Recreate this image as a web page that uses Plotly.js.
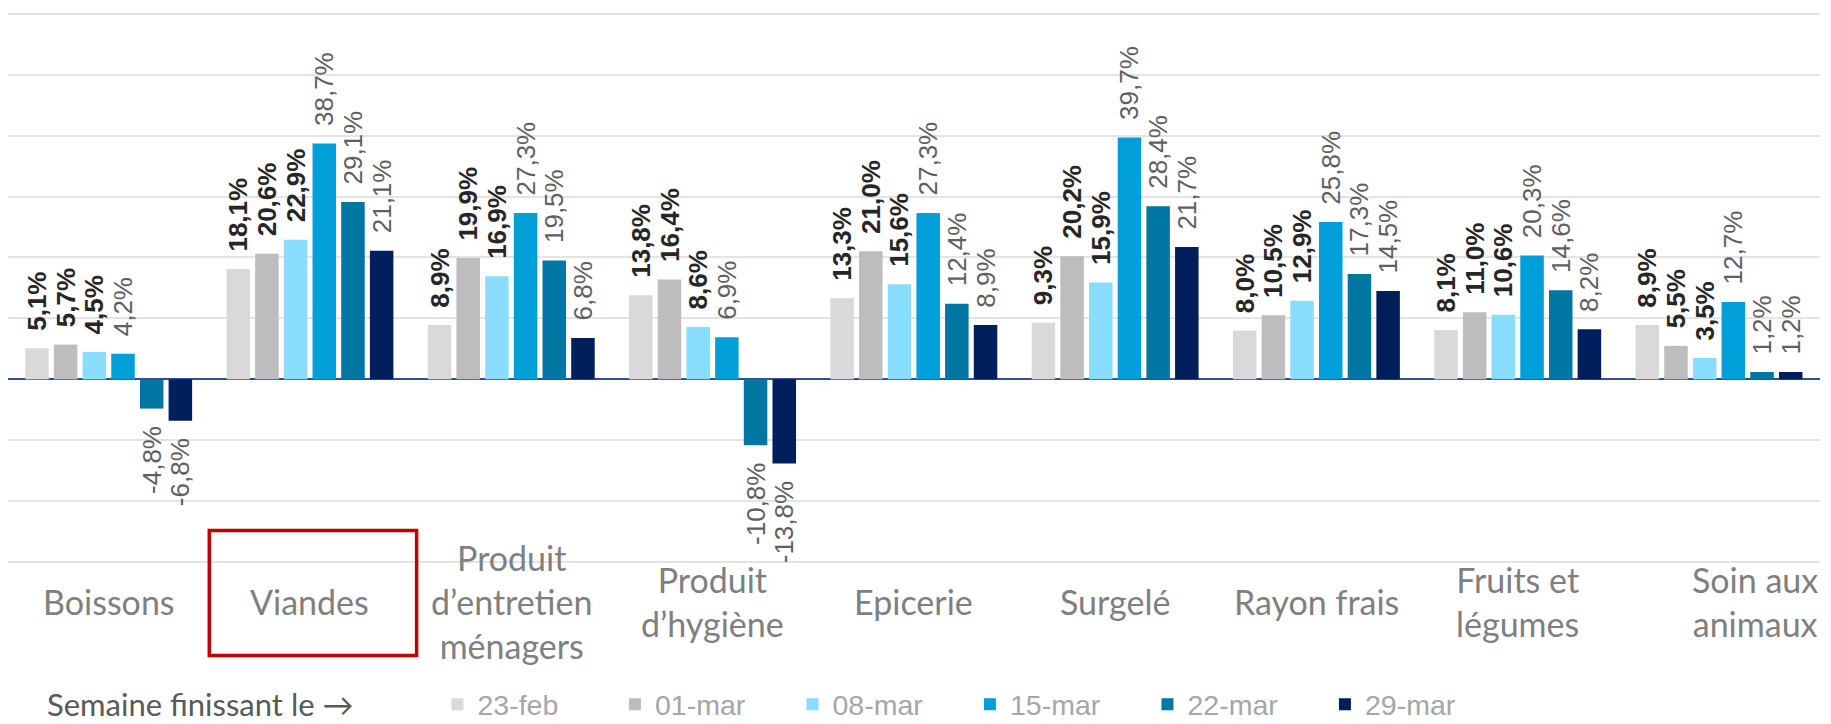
<!DOCTYPE html>
<html>
<head>
<meta charset="utf-8">
<script src="https://cdn.plot.ly/plotly-3.0.1.min.js"></script>
<style>
  html, body { margin: 0; padding: 0; background: #ffffff; }
  #chart { width: 1831px; height: 724px; }
</style>
</head>
<body>
<div id="chart"></div>
<script>
const categories = ['Boissons', 'Viandes', 'Produit d’entretien ménagers', 'Produit d’hygiène', 'Epicerie', 'Surgelé', 'Rayon frais', 'Fruits et légumes', 'Soin aux animaux'];
const categoryLabels = ['Boissons', 'Viandes', 'Produit<br>d’entretien<br>ménagers', 'Produit<br>d’hygiène', 'Epicerie', 'Surgelé', 'Rayon frais', 'Fruits et<br>légumes', 'Soin aux<br>animaux'];
const weeks = ['23-feb', '01-mar', '08-mar', '15-mar', '22-mar', '29-mar'];

const week23feb = [5.1, 18.1, 8.9, 13.8, 13.3, 9.3, 8.0, 8.1, 8.9];
const week01mar = [5.7, 20.6, 19.9, 16.4, 21.0, 20.2, 10.5, 11.0, 5.5];
const week08mar = [4.5, 22.9, 16.9, 8.6, 15.6, 15.9, 12.9, 10.6, 3.5];
const week15mar = [4.2, 38.7, 27.3, 6.9, 27.3, 39.7, 25.8, 20.3, 12.7];
const week22mar = [-4.8, 29.1, 19.5, -10.8, 12.4, 28.4, 17.3, 14.6, 1.2];
const week29mar = [-6.8, 21.1, 6.8, -13.8, 8.9, 21.7, 14.5, 8.2, 1.2];

const seriesValues = [week23feb, week01mar, week08mar, week15mar, week22mar, week29mar];
const seriesColors = ['#D9D9D9', '#BDBDBD', '#89DDFF', '#009FDA', '#0076A2', '#001F5C'];
const labelBold = [true, true, true, false, false, false];

// value label with a little breathing room between the bar end and the text
const PAD = '\u00A0\u00A0';
const fmt = v => {
  const s = v.toFixed(1).replace('.', ',') + '%';
  return v >= 0 ? PAD + s : s + PAD;
};

const traces = seriesValues.map((vals, i) => ({
  type: 'bar',
  name: weeks[i],
  x: categories,
  y: vals,
  text: vals.map(fmt),
  textposition: 'outside',
  textangle: -90,
  constraintext: 'none',
  cliponaxis: false,
  hoverinfo: 'skip',
  textfont: {
    family: 'Liberation Sans, Arial, sans-serif',
    size: 26,
    color: labelBold[i] ? '#262626' : '#5f5f5f',
    weight: labelBold[i] ? 'bold' : 'normal'
  },
  marker: { color: seriesColors[i], line: { width: 0 } }
}));

const annotations = categories.map((c, i) => ({
  x: c, xref: 'x',
  y: -0.068, yref: 'paper',
  yanchor: 'middle', xanchor: 'center',
  xshift: i === categories.length - 1 ? 36 : 0,
  text: categoryLabels[i],
  showarrow: false,
  align: 'center',
  font: { family: 'Lato, Open Sans, sans-serif', size: 34, color: '#7F7F7F' }
}));

annotations.push({
  x: 0.021, xref: 'paper', xanchor: 'left',
  y: -0.252, yref: 'paper', yanchor: 'middle',
  borderpad: 0,
  text: 'Semaine finissant le →',
  showarrow: false,
  font: { family: 'Lato, Open Sans, sans-serif', size: 31, color: '#595959' }
});

const layout = {
  width: 1831, height: 724,
  margin: { l: 8, r: 11, t: 10, b: 159.5, autoexpand: false },
  paper_bgcolor: '#ffffff',
  plot_bgcolor: '#ffffff',
  barmode: 'group',
  bargap: 0.145,
  bargroupgap: 0.18,
  showlegend: true,
  legend: {
    orientation: 'h',
    x: 0.237, xanchor: 'left',
    y: -0.254, yanchor: 'middle',
    entrywidth: 132.5, entrywidthmode: 'pixels',
    itemwidth: 30,
    font: { family: 'Liberation Sans, Arial, sans-serif', size: 28.5, color: '#A6A6A6' },
    bgcolor: 'rgba(0,0,0,0)'
  },
  xaxis: {
    type: 'category',
    showticklabels: false,
    showgrid: false,
    zeroline: false,
    showline: false,
    ticks: '',
    fixedrange: true
  },
  yaxis: {
    range: [-30.3, 60.6],
    dtick: 10,
    tick0: 0,
    showticklabels: false,
    showgrid: true,
    gridcolor: '#E4E4E4',
    gridwidth: 2,
    zeroline: true,
    zerolinecolor: '#2F4F9A',
    zerolinewidth: 2,
    showline: false,
    ticks: '',
    fixedrange: true
  },
  shapes: [{
    type: 'rect',
    xref: 'x', yref: 'paper',
    x0: 0.5, x1: 1.53,
    y0: -0.165, y1: 0.0604,
    line: { color: '#C00000', width: 3.5 },
    fillcolor: 'rgba(0,0,0,0)'
  }],
  annotations: annotations
};

Plotly.newPlot('chart', traces, layout, { displayModeBar: false, staticPlot: true });
</script>
</body>
</html>
